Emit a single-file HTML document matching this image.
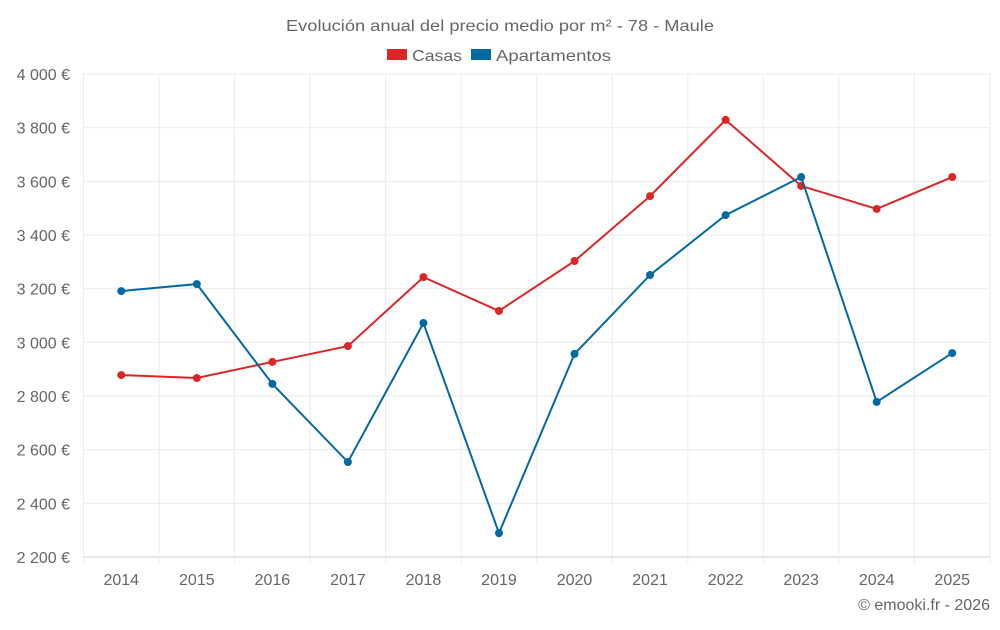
<!DOCTYPE html>
<html><head><meta charset="utf-8"><style>
body{margin:0;background:#fff;font-family:"Liberation Sans",sans-serif;}
svg text{font-family:"Liberation Sans",sans-serif;fill:#666;}
</style></head><body>
<svg id="c" width="1000" height="625">
<text x="286" y="31" font-size="16" textLength="428" lengthAdjust="spacingAndGlyphs">Evolución anual del precio medio por m² - 78 - Maule</text>
<g>
<rect x="387" y="49" width="20" height="11" fill="#dc2626"/>
<text x="412" y="61" font-size="16" textLength="50" lengthAdjust="spacingAndGlyphs">Casas</text>
<rect x="471" y="49" width="20" height="11" fill="#0369a1"/>
<text x="496" y="61" font-size="16" textLength="115" lengthAdjust="spacingAndGlyphs">Apartamentos</text>
</g>
<g id="grid"></g><g id="marks"></g>
<text x="990" y="610" text-anchor="end" font-size="16">© emooki.fr - 2026</text>
</svg>
<script>
const years=["2014","2015","2016","2017","2018","2019","2020","2021","2022","2023","2024","2025"];
const casas=[2878,2867,2927,2986,3243,3117,3303,3545,3829,3583,3497,3616];
const apartamentos=[3191,3217,2845,2554,3072,2289,2957,3251,3474,3616,2778,2960];
const yTicks=[2200,2400,2600,2800,3000,3200,3400,3600,3800,4000];
const NS="http://www.w3.org/2000/svg";
const L=83.5,R=990,T=74,B=557,yMin=2200,yMax=4000;
const band=(R-L)/years.length;
const x=i=>L+band*(i+0.5);
const y=v=>B-(v-yMin)/(yMax-yMin)*(B-T);
function mk(tag,a,parent){const e=document.createElementNS(NS,tag);for(const k in a)e.setAttribute(k,a[k]);parent.appendChild(e);return e;}
const g=document.getElementById('grid'),m=document.getElementById('marks');
yTicks.forEach(v=>{
 const ln=mk('line',{x1:L,x2:R,y1:y(v),y2:y(v),stroke:v===yMin?'#ccc':'#ebebeb'},g);
 
 
 const t=mk('text',{x:70,y:y(v)+6,'text-anchor':'end','font-size':16},g);
 t.textContent=v.toLocaleString('fr-FR').replace(/\s/g,' ')+' €';
 
 
});
for(let i=0;i<=years.length;i++){
 const xx=L+band*i;
 const ln=mk('line',{x1:xx,x2:xx,y1:T,y2:B+6,stroke:'#ebebeb'},g);
 
 
}
years.forEach((yr,i)=>{
 const t=mk('text',{x:x(i),y:585,'text-anchor':'middle','font-size':16},g);
 t.textContent=yr;
 
 
});
function series(vals,color,name){
 const p=mk('polyline',{points:vals.map((v,i)=>x(i)+','+y(v)).join(' '),fill:'none',stroke:color,'stroke-width':2},m);
 
 
 vals.forEach((v,i)=>{
  const c=mk('circle',{cx:x(i),cy:y(v),r:4,fill:color},m);
  
  
 });
}
series(casas,'#dc2626','casas');
series(apartamentos,'#0369a1','apartamentos');
</script>
</body></html>
